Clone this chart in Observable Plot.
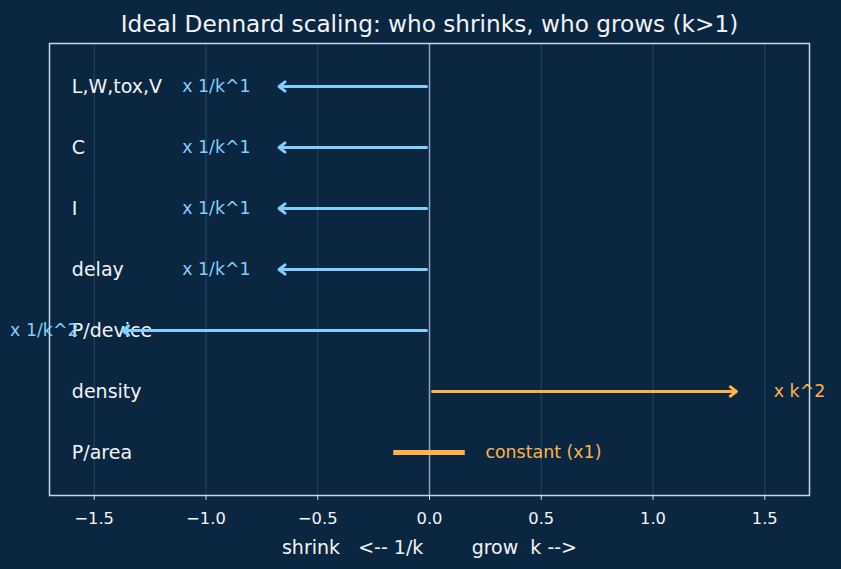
<!DOCTYPE html>
<html>
<head>
<meta charset="utf-8">
<script src="https://cdn.jsdelivr.net/npm/d3@7"></script>
<script src="https://cdn.jsdelivr.net/npm/@observablehq/plot@0.6"></script>
<style>
  html, body { margin: 0; padding: 0; background: #0b2640; }
  svg { display: block; }
</style>
</head>
<body>
<div id="chart"></div>
<script>
// ---- data ----
const quantities = ["L,W,tox,V", "C", "I", "delay", "P/device", "density", "P/area"];
const shifts     = [-0.7, -0.7, -0.7, -0.7, -1.4, 1.4, 0];
const factorLabels = ["x 1/k^1", "x 1/k^1", "x 1/k^1", "x 1/k^1", "x 1/k^2", "x k^2", "constant (x1)"];
const constantSpan = [-0.16, 0.16];
const xTicks = [-1.5, -1.0, -0.5, 0.0, 0.5, 1.0, 1.5];
const titleText = "Ideal Dennard scaling: who shrinks, who grows (k>1)";
const xLabel = "shrink\u00a0\u00a0\u00a0<-- 1/k\u00a0\u00a0\u00a0\u00a0\u00a0\u00a0\u00a0\u00a0grow\u00a0\u00a0k -->";

const rows = quantities.map((q, i) => ({q, shift: shifts[i], label: factorLabels[i]}));
const BLUE = "#80d0ff", ORANGE = "#ffb347", FG = "#f2f4f7", FRAME = "#c8d8e8";
const colorOf = d => d.shift < 0 ? BLUE : ORANGE;

const moving = rows.filter(d => d.shift !== 0);
const shrinking = rows.filter(d => d.shift < 0);
const growing = rows.filter(d => d.shift > 0);
const constant = rows.filter(d => d.shift === 0);

const chart = Plot.plot({
  width: 841,
  height: 569,
  marginLeft: 49,
  marginRight: 32,
  marginTop: 43,
  marginBottom: 74,
  style: {background: "#0b2640", color: FG, fontFamily: "DejaVu Sans, sans-serif", fontSize: "16px"},
  x: {domain: [-1.7, 1.7]},
  y: {type: "point", domain: quantities, padding: 0.7, axis: null},
  marks: [
    Plot.ruleX(xTicks.filter(t => t !== 0), {stroke: "#3a5a78", strokeWidth: 0.8, strokeOpacity: 0.8}),
    Plot.ruleX([0], {stroke: "#8ea4ba", strokeWidth: 1.5}),
    Plot.frame({stroke: FRAME, strokeWidth: 1.5}),
    Plot.axisX({ticks: xTicks, tickFormat: d3.format(".1f"), tickSize: 5, tickPadding: 12, stroke: FRAME, fill: FG, fontSize: 16.3, label: null}),
    Plot.text([xLabel], {frameAnchor: "bottom", lineAnchor: "middle", dy: 52, fill: FG, fontSize: 19}),
    Plot.text([titleText], {frameAnchor: "top", lineAnchor: "middle", dy: -19, fill: FG, fontSize: 23.2}),
    // row labels
    Plot.text(rows, {x: -1.6, y: "q", text: "q", textAnchor: "start", fill: FG, fontSize: 19}),
    // arrows
    Plot.arrow(moving, {x1: 0, x2: "shift", y1: "q", y2: "q", stroke: colorOf, strokeWidth: 3,
      headLength: 3.8, headAngle: 75, insetStart: 3, insetEnd: 6}),
    // constant bar
    Plot.ruleY(constant, {y: "q", x1: constantSpan[0], x2: constantSpan[1], stroke: ORANGE, strokeWidth: 5}),
    // factor labels
    Plot.text(shrinking, {x: d => d.shift * 1.1 - 0.03, y: "q", text: "label", textAnchor: "end", fill: BLUE, fontSize: 17.4}),
    Plot.text(growing, {x: d => d.shift * 1.1, y: "q", text: "label", textAnchor: "start", fill: ORANGE, fontSize: 17.4}),
    Plot.text(constant, {x: constantSpan[1] + 0.09, y: "q", text: "label", textAnchor: "start", fill: ORANGE, fontSize: 17.4})
  ]
});
document.getElementById("chart").appendChild(chart);
</script>
</body>
</html>
